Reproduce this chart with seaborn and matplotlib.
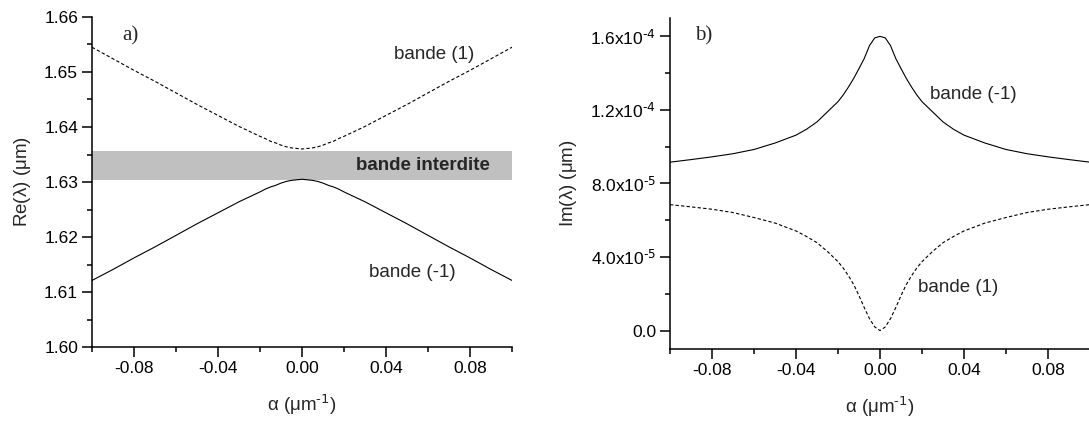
import numpy as np
import pandas as pd
import matplotlib
matplotlib.use("Agg")
import matplotlib.pyplot as plt
from matplotlib.ticker import MultipleLocator, FixedLocator, FixedFormatter
import seaborn as sns

# ---------------- data ----------------
alpha = [-0.1, -0.09, -0.08, -0.07, -0.06, -0.05, -0.04, -0.035, -0.03, -0.025,
         -0.02, -0.0175, -0.015, -0.0125, -0.01, -0.0075, -0.005, -0.0025, 0.0,
         0.0025, 0.005, 0.0075, 0.01, 0.0125, 0.015, 0.0175, 0.02, 0.025, 0.03,
         0.035, 0.04, 0.05, 0.06, 0.07, 0.08, 0.09, 0.1]

# panel a) Re(lambda), um
re_band_p1 = [1.6545, 1.6524, 1.6503, 1.6483, 1.6462, 1.6441, 1.6421, 1.6411, 1.6401, 1.6392,
              1.6383, 1.6379, 1.6374, 1.6371, 1.6367, 1.6364, 1.6362, 1.6361, 1.6360,
              1.6361, 1.6362, 1.6364, 1.6367, 1.6371, 1.6374, 1.6379, 1.6383, 1.6392, 1.6401,
              1.6411, 1.6421, 1.6441, 1.6462, 1.6483, 1.6503, 1.6524, 1.6545]
re_band_m1 = [1.6121, 1.6141, 1.6162, 1.6182, 1.6203, 1.6224, 1.6244, 1.6254, 1.6264, 1.6273,
              1.6282, 1.6287, 1.6291, 1.6294, 1.6298, 1.6301, 1.6303, 1.6304, 1.6305,
              1.6304, 1.6303, 1.6301, 1.6298, 1.6294, 1.6291, 1.6287, 1.6282, 1.6273, 1.6264,
              1.6254, 1.6244, 1.6224, 1.6203, 1.6182, 1.6162, 1.6141, 1.6121]
gap_low, gap_high = 1.6304, 1.6356

# panel b) Im(lambda), um
im_band_m1 = [0.916e-4, 0.930e-4, 0.945e-4, 0.962e-4, 0.985e-4, 1.020e-4, 1.063e-4, 1.095e-4, 1.135e-4, 1.190e-4,
              1.245e-4, 1.282e-4, 1.325e-4, 1.372e-4, 1.425e-4, 1.480e-4, 1.550e-4, 1.592e-4, 1.600e-4,
              1.592e-4, 1.550e-4, 1.480e-4, 1.425e-4, 1.372e-4, 1.325e-4, 1.282e-4, 1.245e-4, 1.190e-4, 1.135e-4,
              1.095e-4, 1.063e-4, 1.020e-4, 0.985e-4, 0.962e-4, 0.945e-4, 0.930e-4, 0.916e-4]
im_band_p1 = [6.85e-5, 6.73e-5, 6.60e-5, 6.42e-5, 6.15e-5, 5.85e-5, 5.42e-5, 5.12e-5, 4.78e-5, 4.30e-5,
              3.75e-5, 3.40e-5, 2.98e-5, 2.50e-5, 1.90e-5, 1.25e-5, 0.65e-5, 0.20e-5, 0.0,
              0.20e-5, 0.65e-5, 1.25e-5, 1.90e-5, 2.50e-5, 2.98e-5, 3.40e-5, 3.75e-5, 4.30e-5, 4.78e-5,
              5.12e-5, 5.42e-5, 5.85e-5, 6.15e-5, 6.42e-5, 6.60e-5, 6.73e-5, 6.85e-5]

x_ticks = [-0.08, -0.04, 0.00, 0.04, 0.08]
x_tick_labels = ["-0.08", "-0.04", "0.00", "0.04", "0.08"]
re_ticks = [1.60, 1.61, 1.62, 1.63, 1.64, 1.65, 1.66]
re_tick_labels = ["1.60", "1.61", "1.62", "1.63", "1.64", "1.65", "1.66"]
im_ticks = [0.0, 4.0e-5, 8.0e-5, 1.2e-4, 1.6e-4]
im_tick_labels = ["0.0", r"4.0x10$^{\text{-5}}$", r"8.0x10$^{\text{-5}}$",
                  r"1.2x10$^{\text{-4}}$", r"1.6x10$^{\text{-4}}$"]

# ---------------- style ----------------
sns.set_theme(style="ticks")
plt.rcParams["font.family"] = ["Liberation Sans", "DejaVu Sans"]
plt.rcParams["mathtext.default"] = "regular"
plt.rcParams["axes.linewidth"] = 1.1

FS_TICK = 12.5
FS_TEXT = 13.5

df_re = pd.DataFrame({"alpha": alpha + alpha,
                      "val": re_band_p1 + re_band_m1,
                      "band": ["bande (1)"] * len(alpha) + ["bande (-1)"] * len(alpha)})
df_im = pd.DataFrame({"alpha": alpha + alpha,
                      "val": im_band_m1 + im_band_p1,
                      "band": ["bande (-1)"] * len(alpha) + ["bande (1)"] * len(alpha)})

W, H = 1089, 428
fig = plt.figure(figsize=(W / 100, H / 100), dpi=100)
axA = fig.add_axes([92 / W, 1 - 347 / H, 420 / W, 330 / H])
axB = fig.add_axes([670 / W, 1 - 349 / H, 420 / W, 331 / H])

dash_map = {"bande (1)": (3, 2), "bande (-1)": ""}

def style_axis(ax):
    sns.despine(ax=ax)
    ax.tick_params(which="major", direction="out", length=7, width=1.1, labelsize=FS_TICK,
                   colors="black", pad=3)
    ax.tick_params(which="minor", direction="out", length=3.8, width=1.1, colors="black")
    for sp in ("left", "bottom"):
        ax.spines[sp].set_color("black")
    ax.set_xlim(-0.1, 0.1)
    ax.xaxis.set_major_locator(FixedLocator(x_ticks))
    ax.xaxis.set_major_formatter(FixedFormatter(x_tick_labels))
    ax.xaxis.set_minor_locator(FixedLocator([-0.1, -0.06, -0.02, 0.02, 0.06, 0.1]))
    ax.set_xlabel(r"$\alpha$ ($\mu$m$^{\text{-1}}$)", fontsize=FS_TEXT, labelpad=12)

# ---- panel a ----
axA.axhspan(gap_low, gap_high, color="#c0c0c0", lw=0, zorder=0)
sns.lineplot(data=df_re, x="alpha", y="val", style="band", dashes=dash_map,
             color="black", linewidth=0.8, estimator=None, sort=False,
             legend=False, ax=axA)
style_axis(axA)
axA.set_ylim(1.60, 1.66)
axA.yaxis.set_major_locator(FixedLocator(re_ticks))
axA.yaxis.set_major_formatter(FixedFormatter(re_tick_labels))
axA.yaxis.set_minor_locator(MultipleLocator(0.005))
axA.set_ylabel(r"Re($\lambda$) ($\mu$m)", fontsize=FS_TEXT, labelpad=8)
axA.text(-0.0857, 1.6565, "a)", family=["Liberation Serif", "DejaVu Serif"], fontsize=15,
         va="center", ha="left")
axA.text(0.0438, 1.6531, "bande (1)", fontsize=FS_TEXT, va="center", ha="left")
axA.text(0.0320, 1.6135, "bande (-1)", fontsize=FS_TEXT, va="center", ha="left")
axA.text(0.0257, 1.6330, "bande interdite", fontsize=FS_TEXT, fontweight="bold",
         va="center", ha="left")

# ---- panel b ----
sns.lineplot(data=df_im, x="alpha", y="val", style="band", dashes=dash_map,
             color="black", linewidth=0.8, estimator=None, sort=False,
             legend=False, ax=axB)
style_axis(axB)
axB.set_ylim(-1.0e-5, 1.7e-4)
axB.yaxis.set_major_locator(FixedLocator(im_ticks))
axB.yaxis.set_major_formatter(FixedFormatter(im_tick_labels))
axB.yaxis.set_minor_locator(FixedLocator([2e-5, 6e-5, 1.0e-4, 1.4e-4]))
axB.set_ylabel(r"Im($\lambda$) ($\mu$m)", fontsize=FS_TEXT, labelpad=8)
axB.text(-0.088, 1.603e-4, "b)", family=["Liberation Serif", "DejaVu Serif"], fontsize=15,
         va="center", ha="left")
axB.text(0.0238, 1.282e-4, "bande (-1)", fontsize=FS_TEXT, va="center", ha="left")
axB.text(0.0181, 2.32e-5, "bande (1)", fontsize=FS_TEXT, va="center", ha="left")

fig.savefig("out.png", dpi=100)
